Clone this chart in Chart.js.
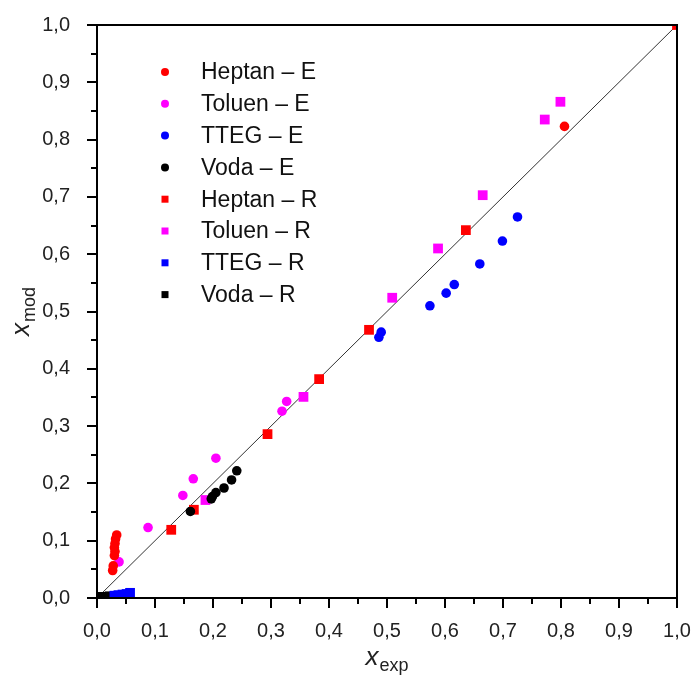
<!DOCTYPE html>
<html><head><meta charset="utf-8">
<script src="https://cdn.jsdelivr.net/npm/chart.js@4/dist/chart.umd.min.js"></script>
<style>html,body{margin:0;padding:0;background:#fff}</style>
</head><body>
<canvas id="c" width="696" height="691"></canvas>
<script>
// ---- data ----
const seriesLabels = ['Heptan – E','Toluen – E','TTEG – E','Voda – E','Heptan – R','Toluen – R','TTEG – R','Voda – R'];

const xHeptanE = [0.034,0.032,0.031,0.030,0.031,0.030,0.028,0.027,0.806];
const yHeptanE = [0.110,0.103,0.095,0.088,0.081,0.074,0.056,0.048,0.823];

const xToluenE = [0.038,0.088,0.148,0.166,0.205,0.319,0.327];
const yToluenE = [0.063,0.123,0.179,0.208,0.244,0.326,0.343];

const xTTEGE = [0.486,0.490,0.574,0.602,0.616,0.660,0.699,0.725];
const yTTEGE = [0.455,0.464,0.510,0.532,0.547,0.583,0.623,0.665];

const xVodaE = [0.161,0.197,0.199,0.205,0.219,0.232,0.241];
const yVodaE = [0.151,0.173,0.177,0.184,0.192,0.206,0.222];

const xHeptanR = [0.128,0.167,0.294,0.383,0.469,0.636,1.000];
const yHeptanR = [0.119,0.154,0.286,0.382,0.468,0.642,1.000];

const xToluenR = [0.187,0.356,0.509,0.588,0.665,0.772,0.799];
const yToluenR = [0.171,0.351,0.524,0.610,0.703,0.835,0.866];

const xTTEGR = [0.030,0.037,0.044,0.051,0.057];
const yTTEGR = [0.004,0.005,0.006,0.007,0.009];

const xVodaR = [0.003,0.008,0.013,0.018,0.022];
const yVodaR = [0.001,0.002,0.002,0.002,0.003];

const xDiag = [0, 1];
const yDiag = [0, 1];

const axisMin = 0, axisMax = 1, axisStep = 0.1;

// ---- build ----
const pairs = (xs, ys) => xs.map((x, i) => ({x, y: ys[i]}));
const colors = ['#ff0000','#ff00ff','#0000ff','#000000','#ff0000','#ff00ff','#0000ff','#000000'];
const xs = [xHeptanE,xToluenE,xTTEGE,xVodaE,xHeptanR,xToluenR,xTTEGR,xVodaR];
const ys = [yHeptanE,yToluenE,yTTEGE,yVodaE,yHeptanR,yToluenR,yTTEGR,yVodaR];

const datasets = seriesLabels.map((lab, i) => {
  const isCircle = i < 4;
  return {
    label: lab,
    data: pairs(xs[i], ys[i]),
    pointStyle: isCircle ? 'circle' : 'rect',
    pointRadius: isCircle ? 4.8 : 6.9,
    pointBackgroundColor: colors[i],
    pointBorderColor: colors[i],
    pointBorderWidth: 0,
    showLine: false,
    clip: 0,
    order: 1
  };
});
datasets.push({
  label: '_diag',
  type: 'line',
  data: pairs(xDiag, yDiag),
  borderColor: '#333333',
  borderWidth: 1,
  pointRadius: 0,
  fill: false,
  clip: 0,
  order: 10
});

const fmt = v => (Math.round(v * 10) / 10).toFixed(1).replace('.', ',');

const decor = {
  id: 'decor',
  afterDatasetsDraw(chart) {
    const {ctx, chartArea: a, scales} = chart;
    const sx = scales.x, sy = scales.y;
    ctx.save();
    ctx.strokeStyle = '#000';
    ctx.lineWidth = 2;
    ctx.strokeRect(a.left, a.top, a.right - a.left, a.bottom - a.top);
    ctx.beginPath();
    for (let k = 0; k <= 20; k++) {
      const v = axisMin + k * axisStep / 2;
      const len = (k % 2 === 0) ? 10 : 6;
      const px = Math.round(sx.getPixelForValue(v));
      ctx.moveTo(px, a.bottom); ctx.lineTo(px, a.bottom + len);
      const py = Math.round(sy.getPixelForValue(v));
      ctx.moveTo(a.left, py); ctx.lineTo(a.left - len, py);
    }
    ctx.stroke();
    ctx.restore();
  },
  afterDraw(chart) {
    const {ctx, chartArea: a} = chart;
    ctx.save();
    const ds = chart.data.datasets.filter(d => !d.label.startsWith('_'));
    ctx.font = '23px "Liberation Sans", Arial, sans-serif';
    ctx.textBaseline = 'middle';
    ctx.textAlign = 'left';
    ds.forEach((d, i) => {
      const y = 72 + i * 31.8;
      const mx = 165;
      ctx.fillStyle = d.pointBackgroundColor;
      if (d.pointStyle === 'circle') {
        ctx.beginPath(); ctx.arc(mx, y, 4, 0, Math.PI * 2); ctx.fill();
      } else {
        ctx.fillRect(mx - 3.5, y - 3.5, 7, 7);
      }
      ctx.fillStyle = '#111';
      ctx.fillText(d.label, 201, y + 1);
    });
    const drawSub = (main, sub, cx, cy, rot) => {
      ctx.save();
      ctx.translate(cx, cy);
      if (rot) ctx.rotate(-Math.PI / 2);
      const f1 = 'italic 26px "Liberation Sans", Arial, sans-serif';
      const f2 = '18px "Liberation Sans", Arial, sans-serif';
      ctx.font = f1; const w1 = ctx.measureText(main).width;
      ctx.font = f2; const w2 = ctx.measureText(sub).width;
      const start = -(w1 + w2 + 1) / 2;
      ctx.fillStyle = '#222';
      ctx.textBaseline = 'alphabetic';
      ctx.textAlign = 'left';
      ctx.font = f1; ctx.fillText(main, start, 0);
      ctx.font = f2; ctx.fillText(sub, start + w1 + 1, 6);
      ctx.restore();
    };
    drawSub('x', 'exp', (a.left + a.right) / 2, 665, false);
    drawSub('x', 'mod', 29, (a.top + a.bottom) / 2, true);
    ctx.restore();
  }
};

new Chart(document.getElementById('c'), {
  type: 'scatter',
  data: { datasets },
  options: {
    responsive: false,
    animation: false,
    devicePixelRatio: 1,
    layout: { padding: { left: 0, right: 19, top: 25, bottom: 0 }, autoPadding: false },
    plugins: { legend: { display: false }, tooltip: { enabled: false } },
    scales: {
      x: {
        type: 'linear', position: 'bottom', min: axisMin, max: axisMax,
        grid: { display: false }, border: { display: false },
        ticks: { stepSize: axisStep, callback: fmt, color: '#222', padding: 13,
                 font: { family: '"Liberation Sans", Arial, sans-serif', size: 20 }, maxRotation: 0 },
        afterFit: s => { s.height = 93; s.paddingLeft = 0; s.paddingRight = 0; }
      },
      y: {
        type: 'linear', position: 'left', min: axisMin, max: axisMax,
        grid: { display: false }, border: { display: false },
        ticks: { stepSize: axisStep, callback: fmt, color: '#222', padding: 19,
                 font: { family: '"Liberation Sans", Arial, sans-serif', size: 20 } },
        afterFit: s => { s.width = 97; s.paddingTop = 0; s.paddingBottom = 0; }
      }
    }
  },
  plugins: [decor]
});
</script>
</body></html>
